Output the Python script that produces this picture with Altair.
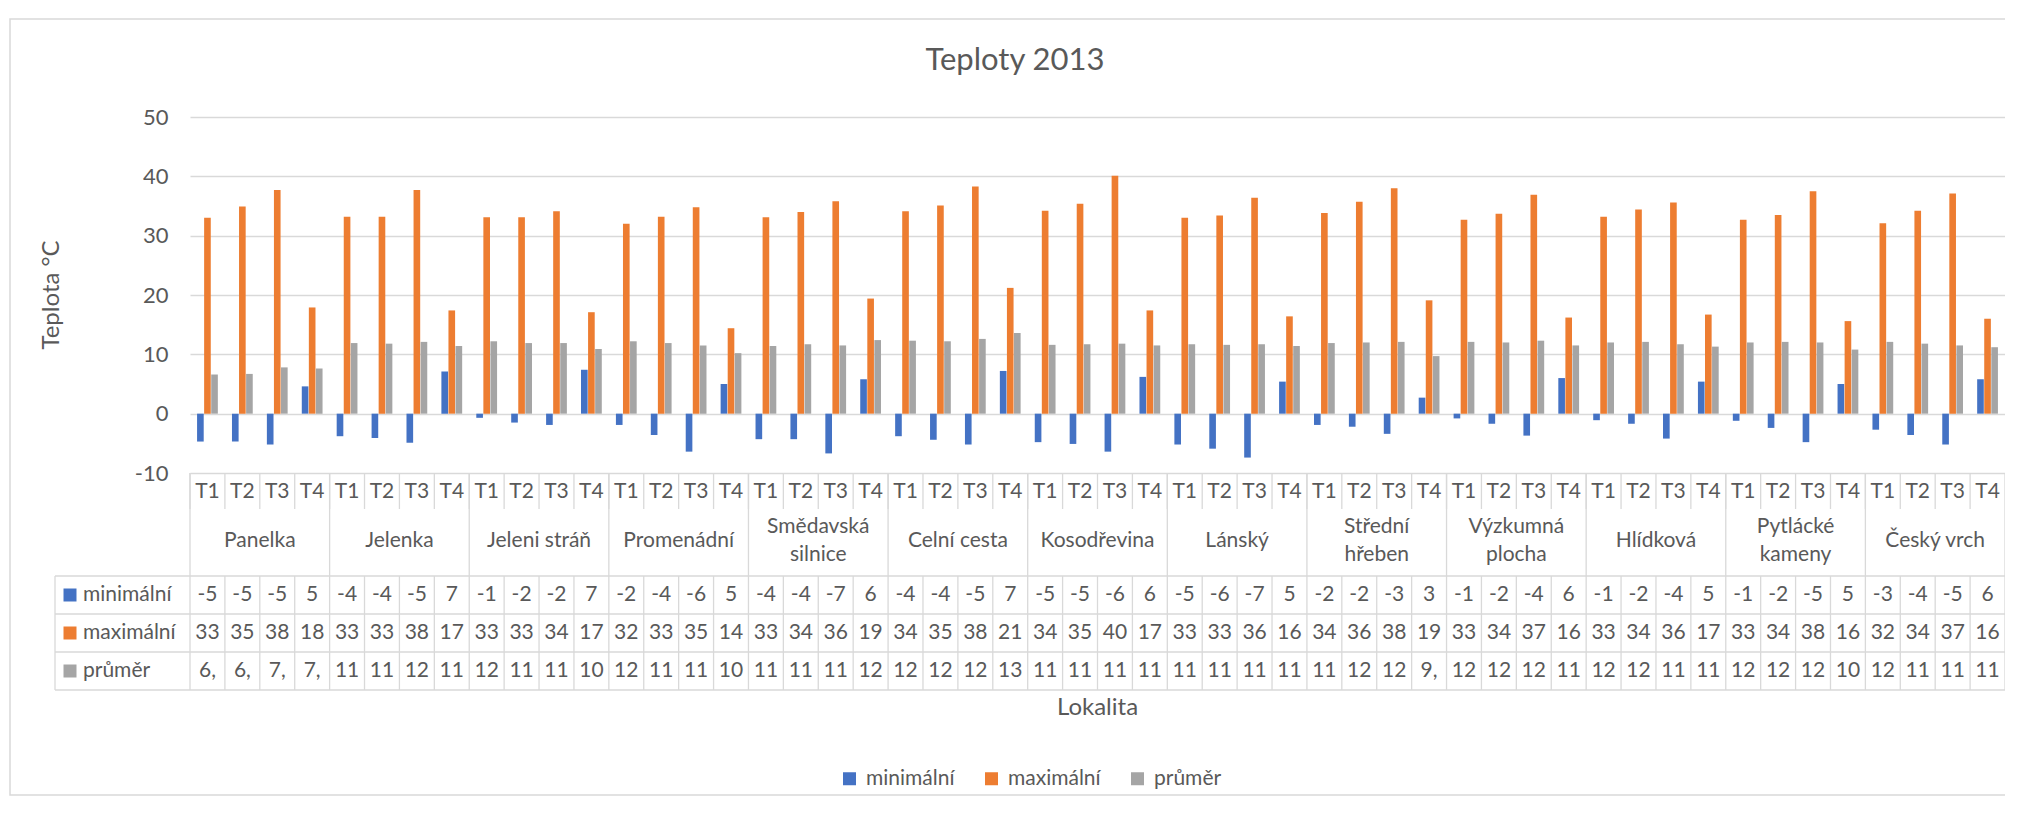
import altair as alt
import pandas as pd

# ---------------- data ----------------
locations = ["Panelka", "Jelenka", "Jeleni stráň", "Promenádní", "Smědavská silnice",
             "Celní cesta", "Kosodřevina", "Lánský", "Střední hřeben", "Výzkumná plocha",
             "Hlídková", "Pytlácké kameny", "Český vrch"]
group_labels = ["Panelka", "Jelenka", "Jeleni stráň", "Promenádní", "Smědavská\nsilnice",
                "Celní cesta", "Kosodřevina", "Lánský", "Střední\nhřeben", "Výzkumná\nplocha",
                "Hlídková", "Pytlácké\nkameny", "Český vrch"]
periods = ["T1", "T2", "T3", "T4"]
series = ["minimální", "maximální", "průměr"]
colors = ["#4472C4", "#ED7D31", "#A5A5A5"]
y_ticks = [-10, 0, 10, 20, 30, 40, 50]

min_vals = [-4.7, -4.7, -5.2, 4.6,   -3.8, -4.1, -4.9, 7.1,   -0.7, -1.5, -1.9, 7.4,
            -1.9, -3.6, -6.4, 5.0,   -4.3, -4.3, -6.7, 5.8,   -3.8, -4.4, -5.2, 7.2,
            -4.8, -5.1, -6.4, 6.2,   -5.2, -5.9, -7.4, 5.4,   -1.9, -2.2, -3.4, 2.7,
            -0.8, -1.7, -3.7, 6.0,   -1.1, -1.7, -4.2, 5.4,   -1.2, -2.4, -4.8, 5.0,
            -2.7, -3.6, -5.2, 5.8]
max_vals = [33.0, 34.9, 37.7, 17.9,  33.2, 33.2, 37.7, 17.4,  33.1, 33.1, 34.1, 17.1,
            32.0, 33.2, 34.8, 14.4,  33.1, 34.0, 35.8, 19.4,  34.1, 35.1, 38.3, 21.2,
            34.2, 35.4, 40.1, 17.4,  33.0, 33.4, 36.4, 16.4,  33.8, 35.7, 38.0, 19.1,
            32.7, 33.7, 36.9, 16.2,  33.2, 34.4, 35.6, 16.7,  32.7, 33.5, 37.5, 15.6,
            32.1, 34.2, 37.1, 16.0]
avg_vals = [6.6, 6.7, 7.8, 7.6,      11.9, 11.8, 12.1, 11.4,  12.2, 11.9, 11.9, 10.9,
            12.2, 11.9, 11.5, 10.2,  11.4, 11.7, 11.5, 12.4,  12.3, 12.2, 12.6, 13.6,
            11.6, 11.7, 11.8, 11.5,  11.7, 11.6, 11.7, 11.4,  11.9, 12.0, 12.1, 9.7,
            12.1, 12.0, 12.3, 11.5,  12.0, 12.1, 11.7, 11.3,  12.0, 12.1, 12.0, 10.8,
            12.1, 11.8, 11.5, 11.2]

# texts shown in the data table (as printed in the reference)
min_lbl = ["-5", "-5", "-5", "5",  "-4", "-4", "-5", "7",  "-1", "-2", "-2", "7",
           "-2", "-4", "-6", "5",  "-4", "-4", "-7", "6",  "-4", "-4", "-5", "7",
           "-5", "-5", "-6", "6",  "-5", "-6", "-7", "5",  "-2", "-2", "-3", "3",
           "-1", "-2", "-4", "6",  "-1", "-2", "-4", "5",  "-1", "-2", "-5", "5",
           "-3", "-4", "-5", "6"]
max_lbl = ["33", "35", "38", "18",  "33", "33", "38", "17",  "33", "33", "34", "17",
           "32", "33", "35", "14",  "33", "34", "36", "19",  "34", "35", "38", "21",
           "34", "35", "40", "17",  "33", "33", "36", "16",  "34", "36", "38", "19",
           "33", "34", "37", "16",  "33", "34", "36", "17",  "33", "34", "38", "16",
           "32", "34", "37", "16"]
avg_lbl = ["6,", "6,", "7,", "7,",  "11", "11", "12", "11",  "12", "11", "11", "10",
           "12", "11", "11", "10",  "11", "11", "11", "12",  "12", "12", "12", "13",
           "11", "11", "11", "11",  "11", "11", "11", "11",  "11", "12", "12", "9,",
           "12", "12", "12", "11",  "12", "12", "11", "11",  "12", "12", "12", "10",
           "12", "11", "11", "11"]

rows = []
cat_order = []
for i, loc in enumerate(locations):
    for j, p in enumerate(periods):
        k = i * 4 + j
        cat = f"{loc}|{p}"
        cat_order.append(cat)
        for s, vals, lbls in zip(series, [min_vals, max_vals, avg_vals], [min_lbl, max_lbl, avg_lbl]):
            rows.append(dict(cat=cat, loc=loc, group=group_labels[i],
                             nlines=group_labels[i].count("\n") + 1, period=p,
                             series=s, value=vals[k], label=lbls[k]))
df = pd.DataFrame(rows)
one = pd.DataFrame({"a": [0]})

# ---------------- layout ----------------
W, H = 1815, 356
FONT = "Lato"
TXT = "#595959"
LINE = "#D9D9D9"
T_ROW_Y = 375
GROUP_Y = 424
GROUP_LH = 28
TABLE_TOP = 459
ROW_LINES = [459, 497, 535, 573]
ROW_CENTERS = [478, 516, 554]
KEY_LEFT = -135

xscale = alt.Scale(domain=cat_order, paddingInner=0, paddingOuter=0)
xenc = alt.X("cat:N", sort=cat_order, scale=xscale, axis=None)
xedge = alt.X("cat:N", sort=cat_order, scale=xscale, axis=None, bandPosition=0)

bars = alt.Chart(df).mark_bar().encode(
    x=xenc,
    xOffset=alt.XOffset("series:N", sort=series,
                        scale=alt.Scale(domain=series, paddingInner=0.06, paddingOuter=1.0)),
    y=alt.Y("value:Q",
            scale=alt.Scale(domain=[-10, 50], nice=False),
            axis=alt.Axis(values=y_ticks, title=None, grid=True, gridColor=LINE, gridWidth=1.3,
                          domain=False, ticks=False, labelFontSize=22, labelColor=TXT,
                          labelFont=FONT, labelPadding=22,
                          labelExpr="toString(datum.value)")),
    color=alt.Color("series:N", sort=series,
                    scale=alt.Scale(domain=series, range=colors),
                    legend=alt.Legend(orient="none", legendX=649, legendY=651,
                                      direction="horizontal", title=None,
                                      symbolType="square", symbolSize=169,
                                      symbolStrokeWidth=0, labelFontSize=21,
                                      labelFont=FONT, labelColor=TXT, labelOffset=6,
                                      columnPadding=26)),
)

base = alt.Chart(df).transform_filter(alt.datum.series == series[0])

t_labels = base.mark_text(font=FONT, fontSize=21, color=TXT, baseline="middle").encode(
    x=xenc, y=alt.value(T_ROW_Y), text="period:N")

g_one = base.transform_filter((alt.datum.period == "T3") & (alt.datum.nlines == 1)).mark_text(
    font=FONT, fontSize=21, color=TXT, baseline="middle"
).encode(x=xedge, y=alt.value(GROUP_Y), text="group:N")
g_two = base.transform_filter((alt.datum.period == "T3") & (alt.datum.nlines == 2)).mark_text(
    font=FONT, fontSize=21, color=TXT, baseline="middle", lineBreak="\n", lineHeight=GROUP_LH
).encode(x=xedge, y=alt.value(GROUP_Y - GROUP_LH / 2), text="group:N")

t_seps = base.mark_rule(color=LINE, strokeWidth=1.3).encode(
    x=xedge, y=alt.value(H), y2=alt.value(H + 36))
g_seps = base.transform_filter(alt.datum.period == "T1").mark_rule(color=LINE, strokeWidth=1.3).encode(
    x=xedge, y=alt.value(H), y2=alt.value(TABLE_TOP))
d_seps = base.mark_rule(color=LINE, strokeWidth=1.3).encode(
    x=xedge, y=alt.value(TABLE_TOP), y2=alt.value(ROW_LINES[-1]))

layers = [bars, t_seps, g_seps, d_seps, t_labels, g_one, g_two]

layers.append(alt.Chart(one).mark_rule(color=LINE, strokeWidth=1.3).encode(
    x=alt.value(W), y=alt.value(H), y2=alt.value(ROW_LINES[-1])))
layers.append(alt.Chart(one).mark_rule(color=LINE, strokeWidth=1.3).encode(
    x=alt.value(KEY_LEFT), y=alt.value(TABLE_TOP), y2=alt.value(ROW_LINES[-1])))
for yy in ROW_LINES:
    layers.append(alt.Chart(one).mark_rule(color=LINE, strokeWidth=1.3).encode(
        x=alt.value(KEY_LEFT), x2=alt.value(W), y=alt.value(yy)))

for s, c, yy in zip(series, colors, ROW_CENTERS):
    layers.append(alt.Chart(df).transform_filter(alt.datum.series == s).mark_text(
        font=FONT, fontSize=21, color=TXT, baseline="middle").encode(
        x=xenc, y=alt.value(yy), text="label:N"))
    layers.append(alt.Chart(one).mark_square(size=169, color=c, opacity=1).encode(
        x=alt.value(KEY_LEFT + 15), y=alt.value(yy)))
    layers.append(alt.Chart(one).mark_text(font=FONT, fontSize=21, color=TXT, align="left",
                                           baseline="middle").encode(
        x=alt.value(KEY_LEFT + 28), y=alt.value(yy), text=alt.value(s)))

# titles
layers.append(alt.Chart(one).mark_text(font=FONT, fontSize=31, color=TXT, baseline="alphabetic").encode(
    x=alt.value(825), y=alt.value(-47), text=alt.value("Teploty 2013")))
layers.append(alt.Chart(one).mark_text(font=FONT, fontSize=24, color=TXT, baseline="middle").encode(
    x=alt.value(W / 2), y=alt.value(591), text=alt.value("Lokalita")))
layers.append(alt.Chart(one).mark_text(font=FONT, fontSize=24, color=TXT, baseline="middle",
                                       angle=270).encode(
    x=alt.value(-138), y=alt.value(H / 2), text=alt.value("Teplota °C")))

# outer chart border
layers.append(alt.Chart(one).mark_rect(fill=None, stroke=LINE, strokeWidth=1.5).encode(
    x=alt.value(-180), x2=alt.value(W + 40), y=alt.value(-98), y2=alt.value(678)))

chart = alt.layer(*layers).properties(
    width=W, height=H,
    autosize=alt.AutoSizeParams(type="none"),
    padding={"left": 182, "top": 109, "right": 0, "bottom": 325},
).configure_view(stroke=None)

chart.save("out.html", embed_options={"renderer": "svg", "actions": False})
